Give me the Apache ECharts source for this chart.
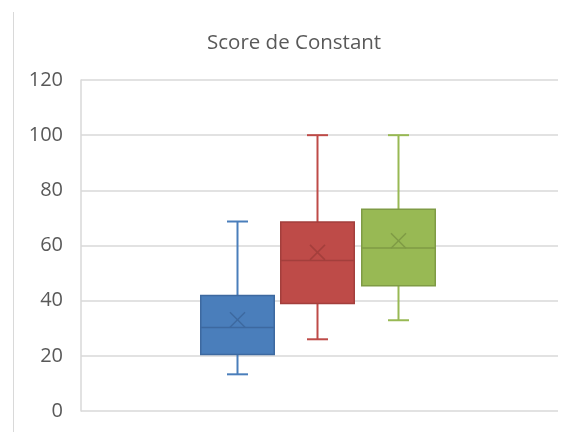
<!DOCTYPE html>
<html>
<head>
<meta charset="utf-8">
<script src="https://cdn.jsdelivr.net/npm/echarts@6/dist/echarts.min.js"></script>
<style>html,body{margin:0;padding:0;background:#fff;}#c{width:562px;height:432px;}</style>
</head>
<body>
<div id="c"></div>
<script>
// Data
const title = 'Score de Constant';
const yTicks = [0, 20, 40, 60, 80, 100, 120];
const seriesNames = ['Série 1', 'Série 2', 'Série 3'];
// [min, q1, median, q3, max, mean]
const blueBox = [13.3, 20.5, 30.3, 41.9, 68.7, 33.1];
const redBox = [26.0, 39.0, 54.6, 68.5, 100, 57.5];
const greenBox = [32.9, 45.4, 59.1, 73.1, 100, 61.7];

const boxes = [blueBox, redBox, greenBox];
const fills = ['#4a7ebb', '#be4b48', '#98b954'];
const strokes = ['#3d69a0', '#a33f3c', '#7f9b45'];
const offsets = [-82, -2, 79];
const boxW = 73.5, capW = 21;

function makeRender(i) {
  return function (params, api) {
    const cx = api.coord([0, 0])[0] + offsets[i];
    const y = v => api.coord([0, v])[1];
    const vMin = api.value(1), q1 = api.value(2), med = api.value(3), q3 = api.value(4), vMax = api.value(5), mean = api.value(6);
    const yq1 = y(q1), yq3 = y(q3), ymed = y(med), ymin = y(vMin), ymax = y(vMax), ymean = y(mean);
    const lw = 2;
    const s = 7.5;
    return {
      type: 'group',
      children: [
        { type: 'line', shape: { x1: cx, y1: yq3, x2: cx, y2: ymax }, style: { stroke: fills[i], lineWidth: lw } },
        { type: 'line', shape: { x1: cx - capW / 2, y1: ymax, x2: cx + capW / 2, y2: ymax }, style: { stroke: fills[i], lineWidth: lw } },
        { type: 'line', shape: { x1: cx, y1: yq1, x2: cx, y2: ymin }, style: { stroke: fills[i], lineWidth: lw } },
        { type: 'line', shape: { x1: cx - capW / 2, y1: ymin, x2: cx + capW / 2, y2: ymin }, style: { stroke: fills[i], lineWidth: lw } },
        { type: 'rect', shape: { x: cx - boxW / 2, y: yq3, width: boxW, height: yq1 - yq3 }, style: { fill: fills[i], stroke: strokes[i], lineWidth: 1.5 } },
        { type: 'line', shape: { x1: cx - boxW / 2, y1: ymed, x2: cx + boxW / 2, y2: ymed }, style: { stroke: strokes[i], lineWidth: 1.5 } },
        { type: 'line', shape: { x1: cx - s, y1: ymean - s, x2: cx + s, y2: ymean + s }, style: { stroke: strokes[i], lineWidth: 1.5 } },
        { type: 'line', shape: { x1: cx - s, y1: ymean + s, x2: cx + s, y2: ymean - s }, style: { stroke: strokes[i], lineWidth: 1.5 } }
      ]
    };
  };
}

const chart = echarts.init(document.getElementById('c'), null, { renderer: 'canvas' });
chart.setOption({
  animation: false,
  backgroundColor: '#fff',
  title: {
    text: title,
    left: 207,
    top: 33,
    padding: 0,
    textStyle: { fontFamily: 'Open Sans', fontSize: 20.5, fontWeight: 'normal', color: '#595959' }
  },
  graphic: [
    { type: 'line', shape: { x1: 13.5, y1: 12, x2: 13.5, y2: 432 }, style: { stroke: '#d9d9d9', lineWidth: 1 } }
  ],
  grid: { left: 81, right: 4, top: 80, bottom: 21, containLabel: false },
  xAxis: {
    type: 'category',
    data: [''],
    axisLine: { show: false },
    axisTick: { show: false },
    axisLabel: { show: false },
    splitLine: { show: false }
  },
  yAxis: {
    type: 'value',
    min: yTicks[0],
    max: yTicks[yTicks.length - 1],
    interval: 20,
    axisLine: { show: true, lineStyle: { color: '#d9d9d9', width: 1.5 } },
    axisTick: { show: false },
    axisLabel: { margin: 18, fontFamily: 'Open Sans', fontSize: 20, color: '#595959' },
    splitLine: { lineStyle: { color: '#d9d9d9', width: 1.5 } }
  },
  series: boxes.map((b, i) => ({
    type: 'custom',
    name: seriesNames[i],
    renderItem: makeRender(i),
    encode: { x: 0, y: [1, 2, 3, 4, 5, 6] },
    data: [[0].concat(b)]
  }))
});
</script>
</body>
</html>
